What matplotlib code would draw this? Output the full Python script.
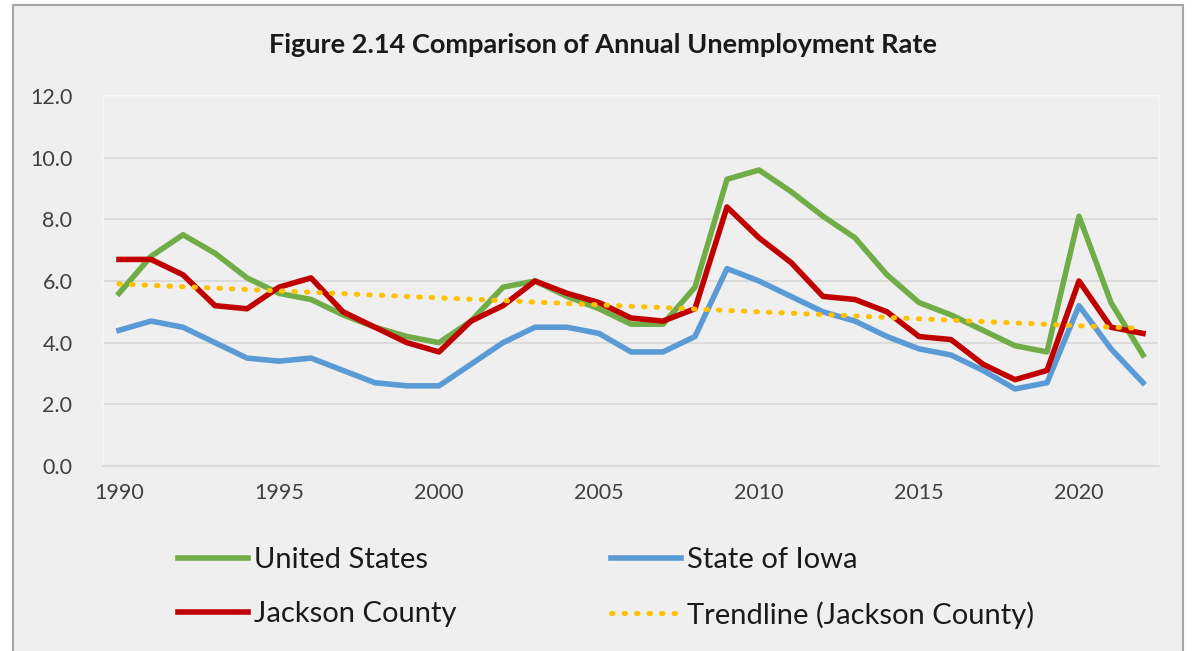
import numpy as np
import matplotlib
matplotlib.use("Agg")
import matplotlib.pyplot as plt
from matplotlib.patches import Rectangle

years = list(range(1990, 2023))
united_states = [5.6, 6.8, 7.5, 6.9, 6.1, 5.6, 5.4, 4.9, 4.5, 4.2, 4.0,
                 4.7, 5.8, 6.0, 5.5, 5.1, 4.6, 4.6, 5.8, 9.3, 9.6,
                 8.9, 8.1, 7.4, 6.2, 5.3, 4.9, 4.4, 3.9, 3.7, 8.1,
                 5.3, 3.6]
state_of_iowa = [4.4, 4.7, 4.5, 4.0, 3.5, 3.4, 3.5, 3.1, 2.7, 2.6, 2.6,
                 3.3, 4.0, 4.5, 4.5, 4.3, 3.7, 3.7, 4.2, 6.4, 6.0,
                 5.5, 5.0, 4.7, 4.2, 3.8, 3.6, 3.1, 2.5, 2.7, 5.2,
                 3.8, 2.7]
jackson_county = [6.7, 6.7, 6.2, 5.2, 5.1, 5.8, 6.1, 5.0, 4.5, 4.0, 3.7,
                  4.7, 5.2, 6.0, 5.6, 5.3, 4.8, 4.7, 5.1, 8.4, 7.4,
                  6.6, 5.5, 5.4, 5.0, 4.2, 4.1, 3.3, 2.8, 3.1, 6.0,
                  4.5, 4.3]
y_ticks = [0, 2, 4, 6, 8, 10, 12]
x_ticks = [1990, 1995, 2000, 2005, 2010, 2015, 2020]
title = "Figure 2.14 Comparison of Annual Unemployment Rate"

plt.rcParams['font.family'] = ['Lato', 'DejaVu Sans']

W, H = 1193, 651
fig = plt.figure(figsize=(W / 100, H / 100), dpi=100, facecolor='white')

# chart frame
fig.patches.append(Rectangle((13 / W, -0.05), (1183 - 13) / W, (H - 5) / H + 0.05,
                             transform=fig.transFigure, facecolor='#EFEFEF',
                             edgecolor='#A6A6A6', linewidth=1.5, zorder=-10))

ax = fig.add_axes([103 / W, (H - 466) / H, 1056 / W, 370 / H])
ax.set_zorder(1)
ax.set_facecolor('#EFEFEF')

LW = 4.0
x = np.array(years)
ax.plot(x, united_states, color='#70AD47', lw=LW, label='United States',
        solid_joinstyle='round', zorder=3)
ax.plot(x, state_of_iowa, color='#5B9BD5', lw=LW, label='State of Iowa',
        solid_joinstyle='round', zorder=3)
ax.plot(x, jackson_county, color='#C00000', lw=LW, label='Jackson County',
        solid_joinstyle='round', zorder=4)
coef = np.polyfit(x, np.array(jackson_county), 1)
ax.plot(x, np.polyval(coef, x), color='#FFC000', lw=3.6,
        linestyle=(0, (0.3, 2.2)), dash_capstyle='round',
        label='Trendline (Jackson County)', zorder=5)

ax.set_xlim(1989.5, 2022.5)
ax.set_ylim(0, 12)
ax.set_yticks(y_ticks)
ax.set_yticklabels([f"{v:.1f}" for v in y_ticks])
ax.set_xticks(x_ticks)
ax.set_xticklabels([str(v) for v in x_ticks])
ax.tick_params(axis='both', length=0, labelsize=15.5, labelcolor='#404040')
ax.tick_params(axis='y', pad=22)
ax.tick_params(axis='x', pad=12)
ax.grid(axis='y', color='#D9D9D9', lw=1.3)
ax.set_axisbelow(True)
for side in ['top', 'left', 'right']:
    ax.spines[side].set_color('#F8F8F8')
    ax.spines[side].set_linewidth(1.2)
ax.spines['bottom'].set_color('#D9D9D9')
ax.spines['bottom'].set_linewidth(1.3)

fig.text(603 / W, 1 - 45 / H, title, ha='center', va='center',
         fontsize=19.5, fontweight='bold', color='#1a1a1a')

handles, labels = ax.get_legend_handles_labels()
order = [0, 2, 1, 3]  # column-major fill: row1 US / Iowa, row2 Jackson / Trend
leg = fig.legend([handles[i] for i in order], [labels[i] for i in order],
                 loc='upper left', bbox_to_anchor=(178 / W, 1 - 547 / H),
                 ncol=2, frameon=False, fontsize=21, handlelength=2.4,
                 handletextpad=0.2, columnspacing=5.3, labelspacing=0.96,
                 borderaxespad=0, borderpad=0)
for t in leg.get_texts():
    t.set_color('#1a1a1a')

fig.savefig('out.png', dpi=100, facecolor=fig.get_facecolor())
